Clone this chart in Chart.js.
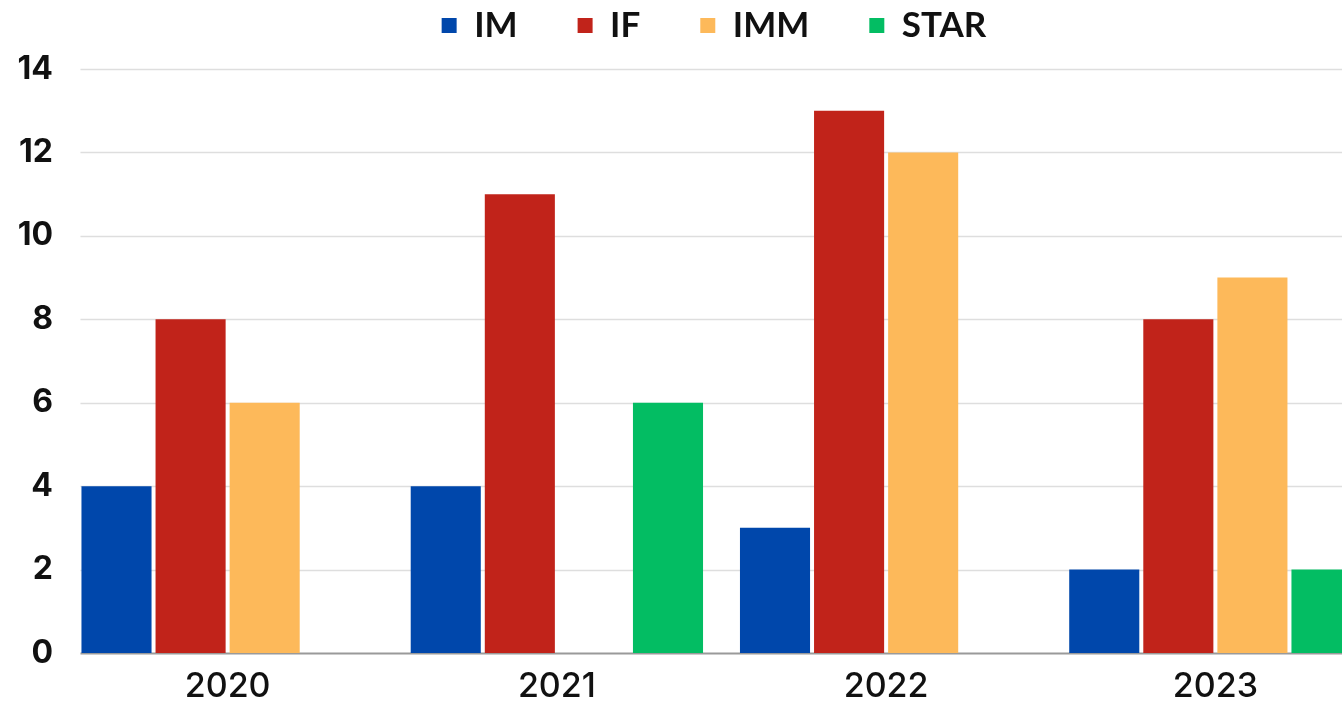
<!DOCTYPE html>
<html><head><meta charset="utf-8">
<script src="https://cdn.jsdelivr.net/npm/chart.js@4.4.1/dist/chart.umd.min.js"></script>
<style>
html,body{margin:0;padding:0;background:#fff;overflow:hidden;width:1342px;height:706px;}
#wrap{position:absolute;left:0;top:0;width:1380px;height:706px;}
</style></head><body>
<div id="wrap"><canvas id="c"></canvas></div>
<script>
const categories = ['2020', '2021', '2022', '2023'];
const seriesNames = ['IM', 'IF', 'IMM', 'STAR'];
const imValues = [4, 4, 3, 2];
const ifValues = [8, 11, 13, 8];
const immValues = [6, 0, 12, 9];
const starValues = [0, 6, 0, 2];
const yTickValues = [0, 2, 4, 6, 8, 10, 12, 14];
const seriesColors = ['#0047ab', '#c1231a', '#fdb95a', '#03bd63'];

const allSeries = [imValues, ifValues, immValues, starValues];

const gridPlugin = {
  id: 'customGrid',
  beforeDatasetsDraw(chart) {
    const y = chart.scales.y, ctx = chart.ctx;
    const bar = chart.getDatasetMeta(0).data[0];
    const left = bar.x - bar.width / 2 - 1;
    const right = chart.chartArea.right;
    ctx.save();
    y.ticks.forEach(t => {
      const py = Math.round(y.getPixelForValue(t.value)) + 0.5;
      ctx.strokeStyle = t.value === 0 ? '#9a9a9a' : '#dedede';
      ctx.lineWidth = t.value === 0 ? 2 : 1.5;
      ctx.beginPath(); ctx.moveTo(left, py); ctx.lineTo(right, py); ctx.stroke();
    });
    ctx.restore();
  }
};

const legendAdjust = {
  id: 'legendAdjust',
  afterInit(chart) {
    const lg = chart.legend;
    const origFit = lg.fit.bind(lg);
    lg.fit = function () { origFit(); this.height = 69; };
    const origDraw = lg.draw.bind(lg);
    lg.draw = function (a) {
      const t = this.top, l = this.left, r = this.right;
      this.top = t - 52; this.left = l + 24; this.right = r + 24;
      origDraw(a);
      this.top = t; this.left = l; this.right = r;
    };
  }
};

new Chart(document.getElementById('c'), {
  type: 'bar',
  data: {
    labels: categories,
    datasets: seriesNames.map((name, i) => ({
      label: name,
      data: allSeries[i],
      backgroundColor: seriesColors[i],
      borderWidth: 0,
      categoryPercentage: 0.9,
      barPercentage: 0.946
    }))
  },
  options: {
    responsive: true,
    maintainAspectRatio: false,
    animation: false,
    layout: { padding: 0 },
    plugins: {
      tooltip: { enabled: false },
      legend: {
        position: 'top',
        labels: {
          boxWidth: 15, boxHeight: 15, padding: 60,
          color: '#111',
          font: { family: 'Lato', size: 35, weight: 'bold' }
        }
      }
    },
    scales: {
      x: {
        grid: { display: false, drawTicks: false },
        border: { display: false },
        ticks: { color: '#111', padding: 13, font: { family: 'Inter', size: 34, weight: '500' } },
        afterFit(s) { s.height = 53; }
      },
      y: {
        min: 0, max: 14,
        afterBuildTicks(s) { s.ticks = yTickValues.map(v => ({ value: v })); },
        grid: { display: false, drawTicks: false },
        border: { display: false },
        ticks: { color: '#111', padding: 10, font: { family: 'Inter', size: 32, weight: '700' } },
        afterFit(s) { s.width = 63; }
      }
    }
  },
  plugins: [gridPlugin, legendAdjust]
});
</script>
</body></html>
